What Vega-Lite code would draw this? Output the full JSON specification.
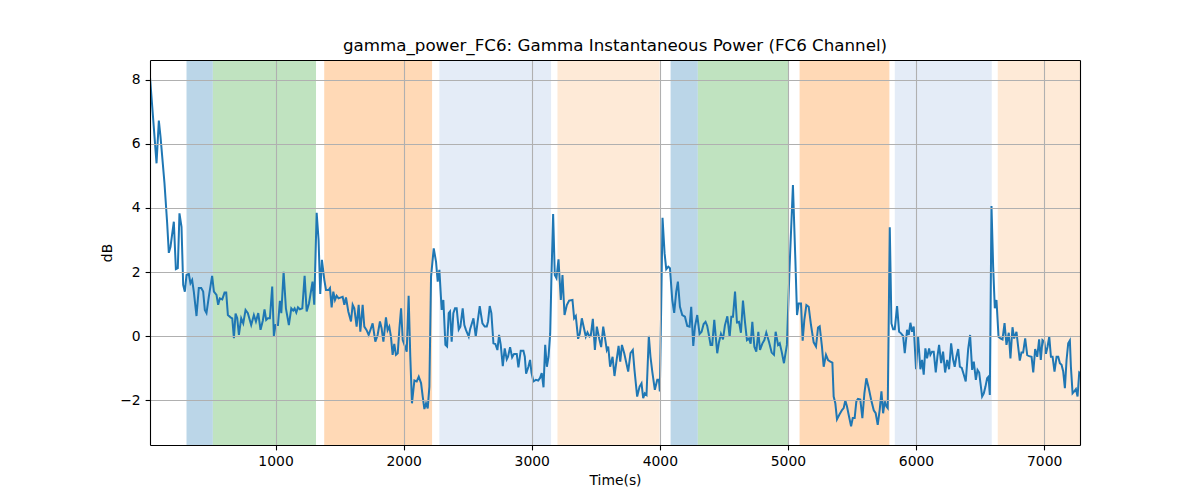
{
"$schema": "https://vega.github.io/schema/vega-lite/v6.json",
"width": 930, "height": 385,
"autosize": {"type": "none"},
"padding": {"left": 150, "top": 60, "right": 120, "bottom": 55},
"background": "white",
"title": {"text": "gamma_power_FC6: Gamma Instantaneous Power (FC6 Channel)", "font": "DejaVu Sans", "fontSize": 16.7, "fontWeight": "normal", "color": "black", "offset": -8, "baseline": "alphabetic"},
"config": {
  "view": {"stroke": null},
  "axis": {"domain": true, "domainColor": "black", "domainWidth": 1.1, "gridColor": "#b0b0b0", "gridWidth": 1.1, "tickColor": "black", "tickSize": 4.9, "tickWidth": 1.1, "labelFont": "DejaVu Sans", "labelFontSize": 13.9, "labelColor": "black", "labelPadding": 4.9, "titleFont": "DejaVu Sans", "titleFontSize": 13.9, "titleFontWeight": "normal", "titleColor": "black", "titlePadding": 5, "labelFlush": false, "labelOverlap": false}
},
"datasets": {
"bands": [
{"start": 305, "end": 511, "band": "A"},
{"start": 511, "end": 1316, "band": "B"},
{"start": 1380, "end": 2222, "band": "C"},
{"start": 2279, "end": 3151, "band": "D"},
{"start": 3201, "end": 3998, "band": "E"},
{"start": 4084, "end": 4297, "band": "A"},
{"start": 4297, "end": 5008, "band": "B"},
{"start": 5091, "end": 5792, "band": "C"},
{"start": 5834, "end": 6591, "band": "D"},
{"start": 6638, "end": 7300, "band": "E"}
],
"power": [
{"t":20,"v":8.07},{"t":71,"v":5.39},{"t":89,"v":6.72},{"t":102,"v":6.22},{"t":133,"v":4.77},{"t":154,"v":3.52},{"t":167,"v":2.60},{"t":180,"v":2.79},{"t":206,"v":3.57},{"t":222,"v":2.09},{"t":237,"v":2.12},{"t":250,"v":3.83},{"t":266,"v":3.41},{"t":279,"v":1.60},{"t":292,"v":1.39},{"t":305,"v":1.91},{"t":323,"v":1.94},{"t":336,"v":1.65},{"t":349,"v":1.75},{"t":362,"v":1.39},{"t":383,"v":0.63},{"t":401,"v":1.50},{"t":420,"v":1.50},{"t":435,"v":1.39},{"t":448,"v":0.82},{"t":461,"v":0.72},{"t":479,"v":1.23},{"t":505,"v":1.88},{"t":519,"v":1.39},{"t":539,"v":1.29},{"t":552,"v":0.98},{"t":565,"v":1.18},{"t":584,"v":1.15},{"t":602,"v":1.36},{"t":615,"v":1.36},{"t":628,"v":0.66},{"t":649,"v":0.59},{"t":662,"v":0.56},{"t":675,"v":-0.06},{"t":688,"v":0.71},{"t":701,"v":0.56},{"t":714,"v":0.04},{"t":732,"v":0.56},{"t":748,"v":0.40},{"t":766,"v":0.82},{"t":784,"v":0.72},{"t":810,"v":0.35},{"t":831,"v":0.66},{"t":847,"v":0.46},{"t":865,"v":0.72},{"t":883,"v":0.20},{"t":901,"v":0.49},{"t":914,"v":0.84},{"t":927,"v":0.51},{"t":940,"v":0.56},{"t":956,"v":0.56},{"t":974,"v":1.55},{"t":987,"v":0.01},{"t":1000,"v":0.35},{"t":1019,"v":0.35},{"t":1034,"v":1.10},{"t":1045,"v":0.72},{"t":1063,"v":2.01},{"t":1081,"v":0.87},{"t":1104,"v":0.35},{"t":1123,"v":0.87},{"t":1138,"v":0.80},{"t":1149,"v":0.87},{"t":1162,"v":0.74},{"t":1175,"v":0.90},{"t":1190,"v":0.84},{"t":1209,"v":0.87},{"t":1227,"v":1.88},{"t":1243,"v":0.77},{"t":1261,"v":1.02},
{"t":1289,"v":1.70},{"t":1302,"v":0.98},{"t":1321,"v":3.85},{"t":1336,"v":3.00},{"t":1349,"v":1.32},{"t":1362,"v":2.38},{"t":1381,"v":1.75},{"t":1394,"v":1.44},{"t":1414,"v":1.44},{"t":1425,"v":1.50},{"t":1438,"v":0.90},{"t":1451,"v":1.39},{"t":1464,"v":1.13},{"t":1477,"v":1.26},{"t":1492,"v":1.18},{"t":1511,"v":1.21},{"t":1524,"v":1.23},{"t":1537,"v":0.98},{"t":1550,"v":1.21},{"t":1568,"v":0.77},{"t":1589,"v":0.46},{"t":1602,"v":0.98},{"t":1615,"v":0.87},{"t":1633,"v":0.30},{"t":1649,"v":0.98},{"t":1662,"v":0.14},{"t":1680,"v":0.98},{"t":1693,"v":0.30},{"t":1711,"v":0.19},{"t":1727,"v":0.04},{"t":1745,"v":0.25},{"t":1758,"v":0.40},{"t":1779,"v":-0.17},{"t":1797,"v":0.04},{"t":1815,"v":0.46},{"t":1828,"v":0.25},{"t":1842,"v":-0.17},{"t":1862,"v":0.59},{"t":1875,"v":0.19},{"t":1888,"v":0.30},{"t":1901,"v":-0.01},{"t":1914,"v":-0.58},{"t":1927,"v":-0.24},{"t":1940,"v":-0.58},{"t":1954,"v":-0.53},{"t":1967,"v":0.25},{"t":1980,"v":0.87},{"t":1993,"v":-0.12},{"t":2011,"v":-0.32},{"t":2024,"v":-0.48},{"t":2039,"v":1.26},{"t":2052,"v":-0.64},{"t":2065,"v":-2.09},{"t":2084,"v":-1.38},{"t":2102,"v":-1.41},{"t":2118,"v":-1.26},{"t":2136,"v":-1.46},{"t":2149,"v":-1.88},{"t":2162,"v":-2.27},{"t":2175,"v":-2.09},{"t":2188,"v":-2.25},{"t":2201,"v":-1.57},{"t":2214,"v":1.86},{"t":2235,"v":2.74},{"t":2253,"v":2.32},{"t":2266,"v":1.70},{"t":2279,"v":2.07},{"t":2297,"v":0.82},{"t":2310,"v":1.13},{"t":2326,"v":-0.27},{"t":2339,"v":-0.32},{"t":2352,"v":0.72},{"t":2362,"v":0.77},{"t":2375,"v":-0.17},{"t":2388,"v":0.72},{"t":2401,"v":0.87},{"t":2414,"v":0.87},{"t":2430,"v":0.21},{"t":2443,"v":0.30},{"t":2461,"v":0.87},{"t":2474,"v":0.35},{"t":2487,"v":0.19},{"t":2508,"v":-0.01},
{"t":2519,"v":0.22},{"t":2545,"v":0.56},{"t":2563,"v":-0.01},{"t":2576,"v":0.40},{"t":2594,"v":0.94},{"t":2615,"v":0.40},{"t":2633,"v":0.30},{"t":2649,"v":0.30},{"t":2659,"v":0.46},{"t":2672,"v":0.94},{"t":2685,"v":0.72},{"t":2701,"v":-0.22},{"t":2716,"v":-0.24},{"t":2732,"v":-0.43},{"t":2745,"v":0.04},{"t":2758,"v":-0.27},{"t":2774,"v":-0.93},{"t":2789,"v":-0.38},{"t":2805,"v":-0.72},{"t":2815,"v":-0.64},{"t":2831,"v":-0.34},{"t":2847,"v":-0.66},{"t":2862,"v":-0.55},{"t":2883,"v":-0.55},{"t":2896,"v":-0.97},{"t":2914,"v":-0.45},{"t":2935,"v":-0.45},{"t":2946,"v":-0.64},{"t":2956,"v":-1.17},{"t":2974,"v":-0.95},{"t":2987,"v":-0.74},{"t":2998,"v":-1.13},{"t":3013,"v":-1.41},{"t":3032,"v":-1.36},{"t":3050,"v":-1.38},{"t":3065,"v":-1.30},{"t":3078,"v":-1.15},{"t":3092,"v":-1.59},{"t":3105,"v":-0.27},{"t":3118,"v":-0.95},{"t":3131,"v":-0.64},{"t":3144,"v":0.08},{"t":3154,"v":1.86},{"t":3167,"v":3.81},{"t":3180,"v":1.91},{"t":3193,"v":1.81},{"t":3209,"v":2.40},{"t":3227,"v":1.13},{"t":3240,"v":1.91},{"t":3256,"v":0.66},{"t":3274,"v":0.97},{"t":3292,"v":1.11},{"t":3318,"v":1.13},{"t":3331,"v":0.56},{"t":3344,"v":0.63},{"t":3362,"v":-0.08},{"t":3375,"v":0.08},{"t":3391,"v":0.56},{"t":3404,"v":0.32},{"t":3422,"v":-0.01},{"t":3435,"v":0.12},{"t":3451,"v":-0.01},{"t":3461,"v":0.02},{"t":3477,"v":0.54},{"t":3493,"v":-0.43},{"t":3508,"v":0.30},{"t":3527,"v":-0.08},{"t":3542,"v":-0.34},{"t":3558,"v":0.30},{"t":3573,"v":-0.08},{"t":3586,"v":-0.43},{"t":3597,"v":-0.32},{"t":3612,"v":-0.95},{"t":3631,"v":-0.64},{"t":3646,"v":-1.24},{"t":3662,"v":-0.76},{"t":3678,"v":-0.30},{"t":3691,"v":-0.79},{"t":3704,"v":-0.27},{"t":3722,"v":-0.53},
{"t":3753,"v":-1.10},{"t":3771,"v":-0.53},{"t":3789,"v":-0.43},{"t":3802,"v":-1.05},{"t":3823,"v":-1.88},{"t":3842,"v":-1.57},{"t":3857,"v":-1.47},{"t":3870,"v":-1.93},{"t":3883,"v":-1.78},{"t":3896,"v":-1.83},{"t":3914,"v":0.01},{"t":3927,"v":-0.64},{"t":3941,"v":-1.10},{"t":3961,"v":-1.67},{"t":3980,"v":-1.36},{"t":3993,"v":-1.36},{"t":4000,"v":-1.72},{"t":4011,"v":1.03},{"t":4021,"v":3.69},{"t":4037,"v":2.59},{"t":4050,"v":2.09},{"t":4066,"v":2.17},{"t":4079,"v":2.12},{"t":4097,"v":1.13},{"t":4112,"v":0.73},{"t":4128,"v":1.39},{"t":4141,"v":1.70},{"t":4157,"v":0.92},{"t":4175,"v":0.66},{"t":4196,"v":0.61},{"t":4214,"v":0.32},{"t":4232,"v":0.30},{"t":4245,"v":0.92},{"t":4261,"v":-0.30},{"t":4274,"v":0.30},{"t":4292,"v":0.66},{"t":4310,"v":0.07},{"t":4326,"v":0.14},{"t":4342,"v":0.38},{"t":4357,"v":0.45},{"t":4370,"v":0.32},{"t":4383,"v":0.04},{"t":4396,"v":-0.27},{"t":4409,"v":-0.27},{"t":4425,"v":0.51},{"t":4448,"v":-0.53},{"t":4461,"v":-0.20},{"t":4477,"v":0.07},{"t":4493,"v":-0.10},{"t":4508,"v":0.34},{"t":4527,"v":0.62},{"t":4545,"v":-0.02},{"t":4558,"v":0.61},{"t":4571,"v":0.61},{"t":4587,"v":1.39},{"t":4602,"v":0.43},{"t":4618,"v":0.45},{"t":4633,"v":0.11},{"t":4649,"v":1.11},{"t":4665,"v":0.43},{"t":4680,"v":-0.12},{"t":4696,"v":-0.07},{"t":4709,"v":-0.23},{"t":4722,"v":0.45},{"t":4738,"v":-0.33},{"t":4753,"v":-0.48},{"t":4769,"v":0.14},{"t":4782,"v":-0.43},{"t":4800,"v":-0.23},{"t":4816,"v":-0.12},{"t":4831,"v":0.11},{"t":4852,"v":-0.17},{"t":4873,"v":-0.51},{"t":4891,"v":-0.58},{"t":4904,"v":0.14},{"t":4923,"v":-0.27},{"t":4936,"v":-0.22},{"t":4951,"v":-0.48},{"t":4969,"v":-0.84},
{"t":4979,"v":-0.58},{"t":4992,"v":-0.27},{"t":5013,"v":2.17},{"t":5039,"v":4.71},{"t":5058,"v":2.38},{"t":5071,"v":0.66},{"t":5084,"v":1.02},{"t":5102,"v":1.02},{"t":5115,"v":-0.14},{"t":5128,"v":0.51},{"t":5144,"v":0.97},{"t":5162,"v":0.92},{"t":5180,"v":0.35},{"t":5201,"v":-0.19},{"t":5219,"v":-0.32},{"t":5235,"v":0.27},{"t":5248,"v":0.31},{"t":5266,"v":-0.34},{"t":5279,"v":-0.95},{"t":5297,"v":-0.58},{"t":5313,"v":-0.74},{"t":5331,"v":-0.79},{"t":5347,"v":-0.82},{"t":5357,"v":-1.88},{"t":5370,"v":-2.09},{"t":5383,"v":-2.59},{"t":5401,"v":-2.45},{"t":5422,"v":-2.30},{"t":5435,"v":-2.24},{"t":5448,"v":-2.00},{"t":5461,"v":-2.19},{"t":5477,"v":-2.50},{"t":5493,"v":-2.81},{"t":5506,"v":-2.55},{"t":5521,"v":-2.55},{"t":5534,"v":-2.03},{"t":5547,"v":-1.95},{"t":5565,"v":-1.97},{"t":5581,"v":-2.55},{"t":5597,"v":-1.77},{"t":5612,"v":-1.31},{"t":5631,"v":-1.62},{"t":5649,"v":-1.97},{"t":5670,"v":-2.31},{"t":5685,"v":-2.40},{"t":5701,"v":-2.76},{"t":5717,"v":-2.27},{"t":5730,"v":-1.72},{"t":5743,"v":-2.40},{"t":5756,"v":-2.03},{"t":5769,"v":-2.19},{"t":5779,"v":-2.24},{"t":5795,"v":3.40},{"t":5808,"v":0.40},{"t":5821,"v":0.22},{"t":5834,"v":0.22},{"t":5852,"v":0.94},{"t":5868,"v":0.14},{"t":5883,"v":0.09},{"t":5899,"v":0.01},{"t":5912,"v":-0.53},{"t":5930,"v":0.20},{"t":5943,"v":0.04},{"t":5956,"v":0.42},{"t":5969,"v":0.14},{"t":5982,"v":0.30},{"t":6000,"v":-1.03},{"t":6016,"v":-0.02},{"t":6034,"v":-1.03},{"t":6047,"v":-0.74},{"t":6060,"v":-1.20},{"t":6073,"v":-0.38},{"t":6086,"v":-0.69},{"t":6102,"v":-0.38},{"t":6112,"v":-0.58},{"t":6125,"v":-0.48},{"t":6138,"v":-0.48},{"t":6154,"v":-1.13},{"t":6167,"v":-0.63},{"t":6180,"v":-0.27},{"t":6196,"v":-0.84},{"t":6211,"v":-0.48},
{"t":6227,"v":-1.13},{"t":6243,"v":-0.74},{"t":6258,"v":-1.03},{"t":6274,"v":-0.22},{"t":6289,"v":-0.72},{"t":6302,"v":-0.95},{"t":6315,"v":-0.64},{"t":6329,"v":-0.40},{"t":6342,"v":-0.95},{"t":6357,"v":-0.99},{"t":6373,"v":-1.20},{"t":6388,"v":-1.41},{"t":6407,"v":-0.40},{"t":6422,"v":0.04},{"t":6438,"v":-1.05},{"t":6451,"v":-0.79},{"t":6467,"v":-1.36},{"t":6480,"v":-1.05},{"t":6493,"v":-1.13},{"t":6503,"v":-1.46},{"t":6516,"v":-1.88},{"t":6529,"v":-1.78},{"t":6542,"v":-1.57},{"t":6555,"v":-1.31},{"t":6566,"v":-1.26},{"t":6576,"v":-1.83},{"t":6589,"v":4.06},{"t":6602,"v":2.17},{"t":6615,"v":0.87},{"t":6628,"v":1.13},{"t":6644,"v":-0.02},{"t":6659,"v":-0.07},{"t":6675,"v":-0.10},{"t":6691,"v":0.41},{"t":6706,"v":-0.27},{"t":6724,"v":0.11},{"t":6737,"v":-0.69},{"t":6753,"v":0.28},{"t":6766,"v":-0.07},{"t":6784,"v":0.14},{"t":6797,"v":-0.32},{"t":6810,"v":-0.76},{"t":6823,"v":-0.51},{"t":6836,"v":-0.51},{"t":6852,"v":-0.07},{"t":6868,"v":-0.59},{"t":6883,"v":-0.62},{"t":6902,"v":-0.64},{"t":6915,"v":-1.13},{"t":6930,"v":-0.40},{"t":6946,"v":-0.64},{"t":6961,"v":-0.10},{"t":6974,"v":-0.74},{"t":6987,"v":-0.12},{"t":7001,"v":-0.17},{"t":7014,"v":-0.55},{"t":7027,"v":-0.32},{"t":7040,"v":-0.01},{"t":7053,"v":-0.64},{"t":7066,"v":-0.64},{"t":7081,"v":-1.10},{"t":7097,"v":-0.64},{"t":7110,"v":-0.64},{"t":7123,"v":-0.84},{"t":7136,"v":-0.89},{"t":7149,"v":-1.10},{"t":7162,"v":-1.62},{"t":7175,"v":-0.74},{"t":7188,"v":-0.22},{"t":7201,"v":-0.13},{"t":7209,"v":-0.95},{"t":7222,"v":-1.78},{"t":7235,"v":-1.72},{"t":7248,"v":-1.65},{"t":7261,"v":-1.88},{"t":7274,"v":-1.13},{"t":7280,"v":-1.15}
]
},
"resolve": {"axis": {"x": "independent", "y": "independent"}},
"layer": [
{
  "data": {"name": "bands"},
  "mark": {"type": "rect", "clip": true},
  "encoding": {
    "x": {"field": "start", "type": "quantitative", "scale": {"domain": [20, 7280], "nice": false, "zero": false}, "axis": {"title": "Time(s)", "values": [1000, 2000, 3000, 4000, 5000, 6000, 7000], "format": "d", "grid": true, "zindex": 1}},
    "x2": {"field": "end"},
    "y": {"datum": 8.61, "type": "quantitative", "scale": {"domain": [-3.39, 8.61], "nice": false, "zero": false}, "axis": {"orient": "right", "title": null, "labels": false, "ticks": false, "grid": false, "domain": true, "zindex": 1}},
    "y2": {"datum": -3.39},
    "color": {"field": "band", "type": "nominal", "scale": {"domain": ["A", "B", "C", "D", "E"], "range": ["#bbd6e8", "#c0e3c0", "#ffd9b6", "#e4ecf7", "#feead7"]}, "legend": null}
  }
},
{
  "data": {"name": "power"},
  "mark": {"type": "line", "color": "#1f77b4", "strokeWidth": 2, "clip": true},
  "encoding": {
    "x": {"field": "t", "type": "quantitative", "axis": {"orient": "top", "title": null, "labels": false, "ticks": false, "grid": false, "domain": true, "zindex": 1}},
    "y": {"field": "v", "type": "quantitative", "scale": {"domain": [-3.39, 8.61], "nice": false, "zero": false}, "axis": {"orient": "left", "title": "dB", "values": [-2, 0, 2, 4, 6, 8], "grid": true, "zindex": 1}}
  }
}
]
}
